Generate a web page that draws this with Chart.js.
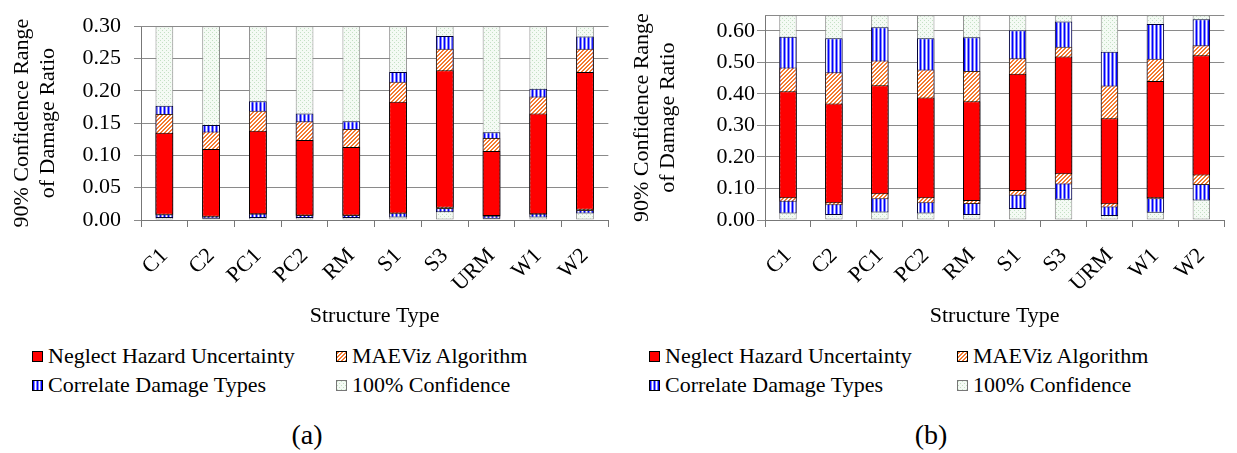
<!DOCTYPE html>
<html><head><meta charset="utf-8">
<script src="https://cdn.jsdelivr.net/npm/chart.js@4.4.1/dist/chart.umd.min.js"></script>
<style>
body{margin:0;background:#fff;width:1237px;height:453px;position:relative;overflow:hidden;font-family:"Liberation Serif","Times New Roman",serif;color:#000}
canvas{position:absolute;top:0}
.item{position:absolute;display:flex;align-items:center;font-size:22px;line-height:24px;white-space:nowrap;height:24px}
.sw{display:inline-block;width:9px;height:9px;border:1px solid #000;margin-right:5px;background-repeat:repeat}
.cap{position:absolute;font-size:28px;line-height:30px;transform:translateX(-50%)}
</style></head>
<body>
<canvas id="ca" width="620" height="340" style="left:0"></canvas>
<canvas id="cb" width="616" height="340" style="left:620px"></canvas>
<div id="legends"></div>
<div class="cap" style="left:307px;top:420px">(a)</div>
<div class="cap" style="left:931px;top:420px">(b)</div>
<script>
const categories = ['C1','C2','PC1','PC2','RM','S1','S3','URM','W1','W2'];
const seriesNames = ['Neglect Hazard Uncertainty','MAEViz Algorithm','Correlate Damage Types','100% Confidence'];

// Panel (a): [low, high] damage-ratio ranges
const aNeglect   = [[0.008,0.135],[0.005,0.110],[0.009,0.138],[0.007,0.124],[0.007,0.113],[0.010,0.183],[0.019,0.232],[0.006,0.107],[0.009,0.165],[0.016,0.229]];
const aMaeviz    = [[0.007,0.164],[0.004,0.137],[0.008,0.169],[0.006,0.153],[0.006,0.141],[0.009,0.214],[0.017,0.265],[0.005,0.127],[0.008,0.191],[0.014,0.265]];
const aCorrelate = [[0.003,0.177],[0.002,0.147],[0.003,0.184],[0.003,0.165],[0.003,0.153],[0.004,0.229],[0.012,0.285],[0.002,0.136],[0.004,0.203],[0.010,0.284]];
const aFull      = [[0,0.30],[0,0.30],[0,0.30],[0,0.30],[0,0.30],[0,0.30],[0,0.30],[0,0.30],[0,0.30],[0,0.30]];
const aTicks = [0,0.05,0.10,0.15,0.20,0.25,0.30];

// Panel (b)
const bNeglect   = [[0.069,0.409],[0.053,0.370],[0.082,0.428],[0.069,0.389],[0.060,0.377],[0.092,0.464],[0.145,0.519],[0.050,0.323],[0.069,0.441],[0.141,0.523]];
const bMaeviz    = [[0.058,0.484],[0.047,0.469],[0.066,0.506],[0.053,0.478],[0.051,0.473],[0.077,0.513],[0.113,0.550],[0.040,0.427],[0.066,0.512],[0.111,0.555]];
const bCorrelate = [[0.021,0.582],[0.016,0.577],[0.024,0.612],[0.021,0.577],[0.016,0.580],[0.035,0.602],[0.064,0.630],[0.013,0.534],[0.023,0.622],[0.062,0.637]];
const bFull      = [[0,0.65],[0,0.65],[0,0.65],[0,0.65],[0,0.65],[0,0.65],[0,0.65],[0,0.65],[0,0.65],[0,0.65]];
const bTicks = [0,0.10,0.20,0.30,0.40,0.50,0.60];

function tile(w,h,fn){const c=document.createElement('canvas');c.width=w;c.height=h;const g=c.getContext('2d');for(let y=0;y<h;y++)for(let x=0;x<w;x++){g.fillStyle=fn(x,y);g.fillRect(x,y,1,1);}return c;}
const hatchTile = tile(4,4,(x,y)=>((x+y)%4<2)?'#f47a30':'#ffffff');
const stripeTile = tile(4,1,(x)=>['#0000ff','#8484ff','#ffffff','#8484ff'][x]);
const dotTile = tile(4,4,(x,y)=>((x===0&&y===0)||(x===2&&y===2))?'#c4e0c4':'#f4faf4');
const tmp = document.createElement('canvas').getContext('2d');
const fills = ['#ff0000', tmp.createPattern(hatchTile,'repeat'), tmp.createPattern(stripeTile,'repeat'), tmp.createPattern(dotTile,'repeat')];
const borders = ['#000000','#3a2a20','#000033','#8a8a8a'];
const swatchCss = ['background:#ff0000','background-image:url('+hatchTile.toDataURL()+')','background-image:url('+stripeTile.toDataURL()+')','background-image:url('+dotTile.toDataURL()+');border-color:#777'];

const font = {family:'"Liberation Serif","Times New Roman",serif', size:22};

function makeChart(id, sets, ymax, ticksList, axisW, tickPad, tickLen){
  const datasets = sets.map((d,i)=>({label:seriesNames[i], data:d, backgroundColor:fills[i], borderColor:borders[i], borderWidth:1, borderSkipped:false, barPercentage:0.38, categoryPercentage:1.0}));
  return new Chart(document.getElementById(id), {
    type:'bar',
    data:{labels:categories, datasets},
    options:{
      responsive:false, animation:false,
      layout:{padding:{top:15,right:id==='ca'?7:0,left:0,bottom:0}},
      plugins:{legend:{display:false}, tooltip:{enabled:false}},
      scales:{
        x:{stacked:true,
           grid:{offset:true, drawOnChartArea:false, drawTicks:true, tickLength:7, color:'#777'},
           border:{color:'#777'},
           ticks:{minRotation:45, maxRotation:45, font, color:'#000', padding:16},
           title:{display:true, text:'Structure Type', font, color:'#000', padding:{top:0,bottom:11}},
           afterFit(s){s.height=120;}},
        y:{min:0, max:ymax,
           afterBuildTicks(s){s.ticks = ticksList.map(v=>({value:v}));},
           ticks:{font, color:'#000', padding:tickPad, callback:(v)=>Number(v).toFixed(2)},
           grid:{color:'#8a8a8a', tickLength:tickLen},
           border:{color:'#777'},
           title:{display:true, text:['90% Confidence Range','of Damage Ratio'], font, color:'#000', padding:{top:9,bottom:0}},
           afterFit(s){s.width=axisW;}}
      }
    },
    plugins:[{id:'topline', afterDatasetsDraw(c){const a=c.chartArea,g=c.ctx;g.save();g.strokeStyle='#8a8a8a';g.lineWidth=1;g.beginPath();g.moveTo(a.left,Math.round(a.top)+0.5);g.lineTo(a.right,Math.round(a.top)+0.5);g.stroke();g.restore();}}]
  });
}
makeChart('ca',[aNeglect,aMaeviz,aCorrelate,aFull],0.30,aTicks,141,13,7);
makeChart('cb',[bNeglect,bMaeviz,bCorrelate,bFull],0.65,bTicks,145,2,8);

// HTML legends
const L = document.getElementById('legends');
function legendItem(i,x,yc){const d=document.createElement('div');d.className='item';d.style.left=x+'px';d.style.top=(yc-12)+'px';
  const s=document.createElement('span');s.className='sw';s.style.cssText+=swatchCss[i];d.appendChild(s);
  d.appendChild(document.createTextNode(seriesNames[i]));L.appendChild(d);}
[[32,336],[649,957]].forEach(([x1,x2])=>{legendItem(0,x1,356);legendItem(1,x2,356);legendItem(2,x1,385);legendItem(3,x2,385);});
</script>
</body></html>
